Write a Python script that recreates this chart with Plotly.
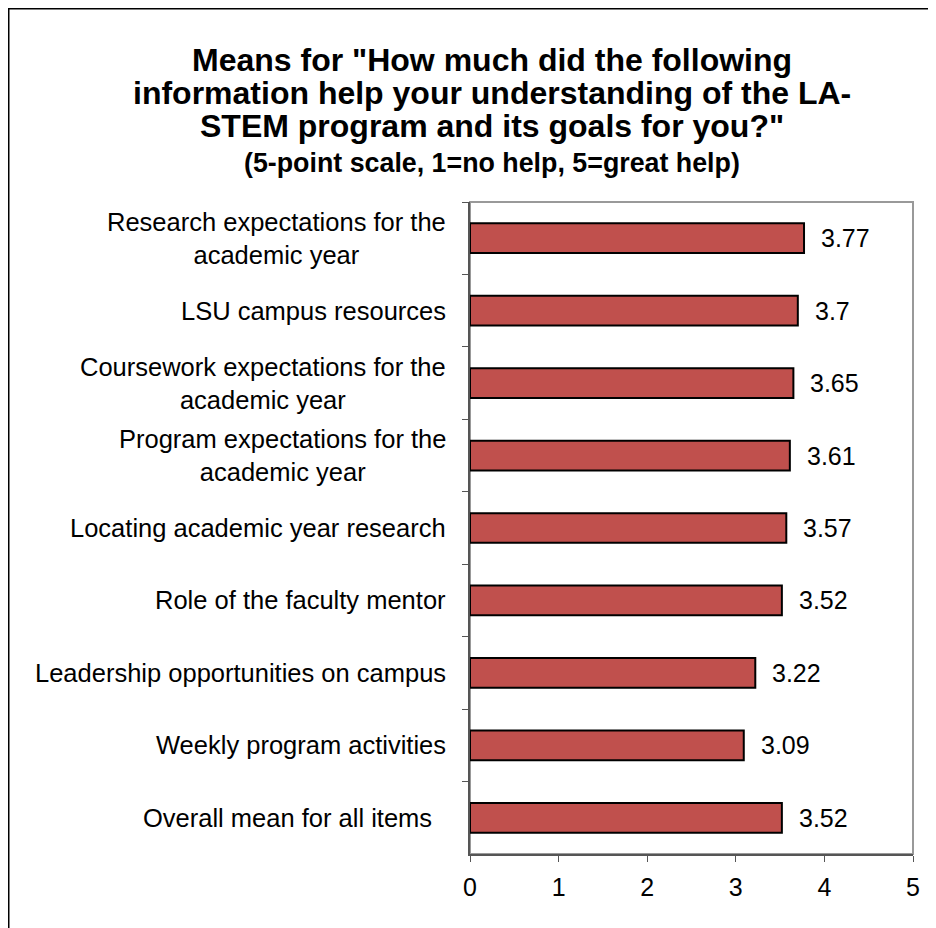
import plotly.graph_objects as go

# survey items, top to bottom as in the chart
items = [
    "Research expectations for the<br>academic year",
    "LSU campus resources",
    "Coursework expectations for the<br>academic year",
    "Program expectations for the<br>academic year",
    "Locating academic year research",
    "Role of the faculty mentor",
    "Leadership opportunities on campus",
    "Weekly program activities",
    "Overall mean for all items\u00a0\u00a0",
]
means = [3.77, 3.7, 3.65, 3.61, 3.57, 3.52, 3.22, 3.09, 3.52]
x_ticks = [0, 1, 2, 3, 4, 5]

title_lines = [
    'Means for "How much did the following',
    'information help your understanding of the LA-',
    'STEM program and its goals for you?"',
]
subtitle = "(5-point scale, 1=no help, 5=great help)"

FONT = dict(family="Liberation Sans, Arial, sans-serif", color="black")

# plot area in figure pixels (page is offset 8px by the body margin)
L, R, T, B = 462, 905, 194, 846
W, H = 936, 928


def py(y):
    return (B - y) / (B - T)


def px(x):
    return (x - L) / (R - L)


fig = go.Figure()
fig.add_trace(go.Bar(
    x=means,
    y=items,
    orientation="h",
    width=0.41,
    marker=dict(color="#C0504D", line=dict(color="black", width=2)),
    hoverinfo="x+y",
))

# value labels just past each bar end
for v, it in zip(means, items):
    fig.add_annotation(x=v, y=it, text=str(v), showarrow=False,
                       xanchor="left", xshift=15,
                       font=dict(FONT, size=25))

# category labels, centred multi-line text right-aligned to the axis
for it in items:
    fig.add_annotation(x=0, xref="paper", y=it, yref="y", text=it,
                       showarrow=False, xanchor="right", xshift=-22,
                       align="center", font=dict(FONT, size=25.5))

# title lines
for i, line in enumerate(title_lines):
    fig.add_annotation(text="<b>%s</b>" % line, xref="paper", yref="paper",
                       x=px(484), y=py(52 + 33 * i), xanchor="center",
                       yanchor="middle", showarrow=False,
                       font=dict(FONT, size=32))
fig.add_annotation(text="<b>%s</b>" % subtitle, xref="paper", yref="paper",
                   x=px(484), y=py(155), xanchor="center", yanchor="middle",
                   showarrow=False, font=dict(FONT, size=26.8))

fig.update_layout(
    width=W, height=H,
    margin=dict(l=L, r=W - R, t=T, b=H - B),
    paper_bgcolor="white", plot_bgcolor="white",
    showlegend=False,
    font=dict(FONT, size=25),
)

fig.update_xaxes(
    range=[0, 5], tickvals=x_ticks, showgrid=False, zeroline=False,
    showline=True, linecolor="#555555", linewidth=2,
    ticks="outside", ticklen=6, tickcolor="#555555", tickwidth=1,
    tickfont=dict(FONT, size=25), ticklabelstandoff=4,
)
fig.update_yaxes(
    autorange="reversed", showgrid=False, zeroline=False,
    showline=True, linecolor="#555555", linewidth=2,
    ticks="outside", tickson="boundaries", ticklen=6, tickcolor="#555555",
    showticklabels=False,
)

# light grey frame on the plot area, outer chart border
fig.add_shape(type="rect", xref="paper", yref="paper", x0=0, y0=0, x1=1, y1=1,
              line=dict(color="#999999", width=2), layer="below")
fig.add_shape(type="rect", xref="paper", yref="paper",
              x0=px(0.75), y0=py(960), x1=px(960), y1=py(0.75),
              line=dict(color="black", width=1.5), layer="below")

fig.write_html("out.html")
